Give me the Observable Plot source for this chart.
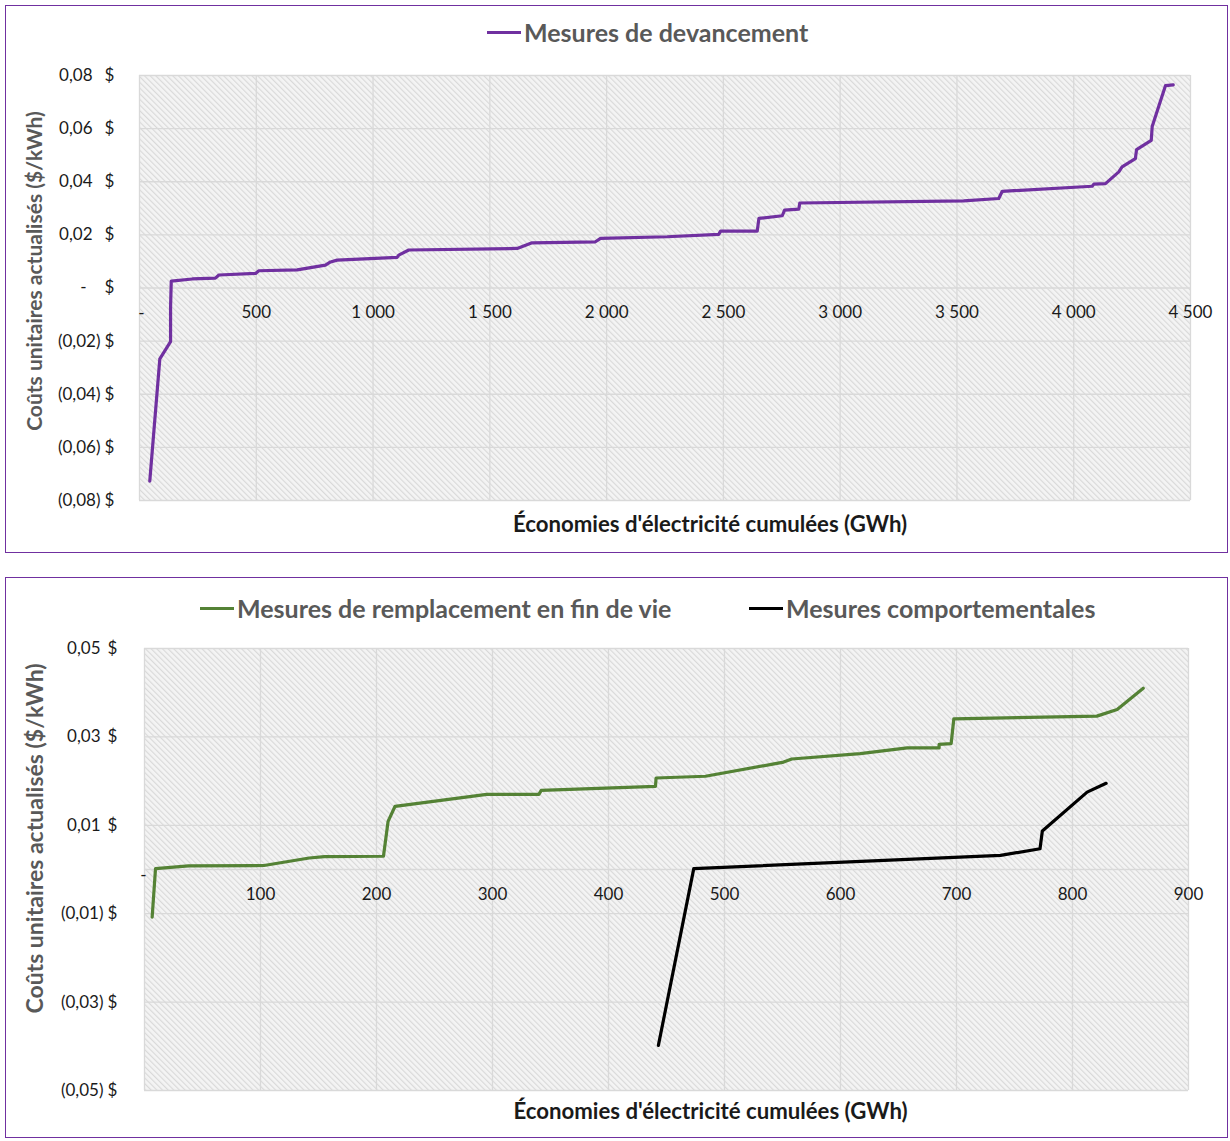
<!DOCTYPE html>
<html>
<head>
<meta charset="utf-8">
<script src="https://cdn.jsdelivr.net/npm/d3@7"></script>
<script src="https://cdn.jsdelivr.net/npm/@observablehq/plot@0.6"></script>
<style>
  body { margin: 0; background: #fff; font-family: Lato, "Open Sans", sans-serif; }
  #page { position: relative; width: 1230px; height: 1141px; overflow: hidden; }
  .panel { position: absolute; box-sizing: border-box; border: 1.5px solid #7030a0; }
  .plotbox { position: absolute; left: 0; }
  .leg { position: absolute; display: flex; align-items: center; height: 30px;
         font-family: Lato, sans-serif; font-weight: 700; font-size: 25px; color: #595959; white-space: nowrap; }
  .leg .sw { display: inline-block; width: 34px; height: 3px; margin-right: 3px; }
</style>
</head>
<body>
<svg width="0" height="0" style="position:absolute">
  <defs>
    <pattern id="hatch" patternUnits="userSpaceOnUse" width="4" height="4" patternTransform="rotate(-45)">
      <rect width="4" height="4" fill="#f4f4f4"></rect>
      <line x1="0.6" y1="0" x2="0.6" y2="4" stroke="#d8d8d8" stroke-width="1.1"></line>
    </pattern>
  </defs>
</svg>
<div id="page">
  <div class="panel" style="left:5px;top:5px;width:1223px;height:548px;"></div>
  <div class="panel" style="left:5px;top:577px;width:1223px;height:561px;"></div>
  <div id="top" class="plotbox" style="top:0px;"></div>
  <div id="bot" class="plotbox" style="top:572px;"></div>
  <div class="leg" style="left:487px;top:17px;"><span class="sw" style="background:#7030a0"></span>Mesures de devancement</div>
  <div class="leg" style="left:200px;top:593px;"><span class="sw" style="background:#548235"></span>Mesures de remplacement en fin de vie</div>
  <div class="leg" style="left:749px;top:593px;"><span class="sw" style="background:#000000"></span>Mesures comportementales</div>
</div>
<script>
// ---------- Data ----------
// Mesures de devancement : cumulative savings (GWh) and unit cost ($/kWh)
const devX = [44, 87, 133, 133, 136, 226, 325, 340, 497, 511, 675, 796, 818, 846, 1103, 1110, 1153, 1617, 1681, 1952, 1974, 2259, 2480, 2488, 2645, 2652, 2752, 2762, 2823, 2827, 3529, 3679, 3694, 4079, 4086, 4136, 4193, 4207, 4264, 4269, 4332, 4336, 4393, 4426];
const devY = [-0.0727, -0.0267, -0.0202, -0.0070, 0.0026, 0.0034, 0.0037, 0.0049, 0.0055, 0.0065, 0.0068, 0.0086, 0.0098, 0.0105, 0.0115, 0.0124, 0.0143, 0.0149, 0.0170, 0.0174, 0.0187, 0.0193, 0.0202, 0.0214, 0.0214, 0.0262, 0.0272, 0.0293, 0.0297, 0.0320, 0.0328, 0.0337, 0.0364, 0.0383, 0.0391, 0.0393, 0.0437, 0.0456, 0.0487, 0.0521, 0.0556, 0.0608, 0.0762, 0.0765];

// Mesures de remplacement en fin de vie
const eolX = [6.6, 9.5, 38, 103, 142, 155, 206, 210, 216, 295, 340, 342, 440.5, 441, 483.6, 551, 558, 617, 657.5, 685, 685, 695.4, 697.7, 821, 838.5, 861];
const eolY = [-0.0108, 0.0002, 0.0008, 0.0009, 0.0026, 0.0029, 0.0030, 0.0109, 0.0143, 0.0170, 0.0170, 0.0179, 0.0188, 0.0207, 0.0211, 0.0243, 0.0250, 0.0262, 0.0275, 0.0275, 0.0283, 0.0285, 0.0341, 0.0347, 0.0362, 0.0410];

// Mesures comportementales
const behX = [443, 473.5, 738, 772, 774, 812.6, 829];
const behY = [-0.0398, 0.0002, 0.0032, 0.0047, 0.0087, 0.0175, 0.0195];

// Ticks and labels
const topXTicks = [0, 500, 1000, 1500, 2000, 2500, 3000, 3500, 4000, 4500];
const topXLabels = ["-", "500", "1 000", "1 500", "2 000", "2 500", "3 000", "3 500", "4 000", "4 500"];
const topYTicks = [0.08, 0.06, 0.04, 0.02, 0, -0.02, -0.04, -0.06, -0.08];
const topYLabels = ["0,08", "0,06", "0,04", "0,02", "-", "(0,02)", "(0,04)", "(0,06)", "(0,08)"];

const botXTicks = [0, 100, 200, 300, 400, 500, 600, 700, 800, 900];
const botXLabels = ["-", "100", "200", "300", "400", "500", "600", "700", "800", "900"];
const botYTicks = [0.05, 0.03, 0.01, -0.01, -0.03, -0.05];
const botYLabels = ["0,05", "0,03", "0,01", "(0,01)", "(0,03)", "(0,05)"];
const botGridY = [0.05, 0.03, 0.01, 0, -0.01, -0.03, -0.05];

const yTitle = "Coûts unitaires actualisés ($/kWh)";
const xTitle = "Économies d'électricité cumulées (GWh)";

const COLORS = {dev: "#7030a0", eol: "#548235", beh: "#000000"};

// ---------- Helpers ----------
const zip = (xs, ys) => xs.map((x, i) => ({x, y: ys[i]}));
const tickFont = {fontFamily: "Lato, sans-serif", fontSize: 17, fill: "#1a1a1a"};
const gridStyle = {stroke: "#d9d9d9", strokeOpacity: 1, strokeWidth: 1.3};

function yLabelMarks(ticks, labels, o) {
  const rows = ticks.map((t, i) => ({t, label: labels[i]}));
  const common = {y: "t", text: "label", frameAnchor: "left", textAnchor: "end", ...tickFont};
  return [
    Plot.text(rows.filter(d => d.t > 0), {...common, dx: o.pos}),
    Plot.text(rows.filter(d => d.t < 0), {...common, dx: o.neg}),
    Plot.text(rows.filter(d => d.t === 0), {...common, dx: o.zero}),
    Plot.text(rows, {y: "t", text: () => "$", frameAnchor: "left", textAnchor: "middle", dx: o.dollar, ...tickFont})
  ];
}

function xLabelMarks(ticks, labels, o) {
  const rows = ticks.map((t, i) => ({t, label: labels[i], y0: 0}));
  return [
    Plot.text(rows.filter(d => d.t !== 0), {x: "t", y: "y0", text: "label", dy: o.dy, textAnchor: "middle", ...tickFont}),
    Plot.text(rows.filter(d => d.t === 0), {x: "t", y: "y0", text: "label", dy: o.zeroDy, dx: o.zeroDx, textAnchor: "middle", ...tickFont})
  ];
}

// ---------- Top chart ----------
const topChart = Plot.plot({
  width: 1230,
  height: 560,
  marginLeft: 139,
  marginRight: 40,
  marginTop: 75,
  marginBottom: 60,
  x: {domain: [0, 4500], axis: null},
  y: {domain: [-0.08, 0.08], axis: null},
  style: {background: "transparent", overflow: "visible"},
  marks: [
    Plot.frame({fill: "url(#hatch)", stroke: "none"}),
    Plot.gridX(topXTicks, gridStyle),
    Plot.gridY(topYTicks, gridStyle),
    ...yLabelMarks(topYTicks, topYLabels, {pos: -47, neg: -39, zero: -53, dollar: -30}),
    ...xLabelMarks(topXTicks, topXLabels, {dy: 25, zeroDy: 26, zeroDx: 2}),
    Plot.line(zip(devX, devY), {x: "x", y: "y", stroke: COLORS.dev, strokeWidth: 3.2, strokeLinejoin: "round"}),
    Plot.text([yTitle], {text: d => d, frameAnchor: "left", textAnchor: "middle", dx: -104, dy: -17, rotate: -90,
      fontFamily: "Lato, sans-serif", fontWeight: 700, fontSize: 21, fill: "#595959"}),
    Plot.text([xTitle], {text: d => d, frameAnchor: "bottom", textAnchor: "middle", dx: 45, dy: 31,
      fontFamily: "Lato, sans-serif", fontWeight: 700, fontSize: 22.2, fill: "#1a1a1a"})
  ]
});
document.getElementById("top").appendChild(topChart);

// ---------- Bottom chart ----------
const botChart = Plot.plot({
  width: 1230,
  height: 569,
  marginLeft: 144,
  marginRight: 42,
  marginTop: 76,
  marginBottom: 51,
  x: {domain: [0, 900], axis: null},
  y: {domain: [-0.05, 0.05], axis: null},
  style: {background: "transparent", overflow: "visible"},
  marks: [
    Plot.frame({fill: "url(#hatch)", stroke: "none"}),
    Plot.gridX(botXTicks, gridStyle),
    Plot.gridY(botGridY, gridStyle),
    ...yLabelMarks(botYTicks, botYLabels, {pos: -44, neg: -41, zero: -50, dollar: -32}),
    ...xLabelMarks(botXTicks, botXLabels, {dy: 25, zeroDy: 6, zeroDx: -1}),
    Plot.line(zip(eolX, eolY), {x: "x", y: "y", stroke: COLORS.eol, strokeWidth: 3.2, strokeLinejoin: "round"}),
    Plot.line(zip(behX, behY), {x: "x", y: "y", stroke: COLORS.beh, strokeWidth: 3.2, strokeLinejoin: "round"}),
    Plot.text([yTitle], {text: d => d, frameAnchor: "left", textAnchor: "middle", dx: -109, dy: -31, rotate: -90,
      fontFamily: "Lato, sans-serif", fontWeight: 700, fontSize: 23, fill: "#595959"}),
    Plot.text([xTitle], {text: d => d, frameAnchor: "bottom", textAnchor: "middle", dx: 44, dy: 28,
      fontFamily: "Lato, sans-serif", fontWeight: 700, fontSize: 22.2, fill: "#1a1a1a"})
  ]
});
document.getElementById("bot").appendChild(botChart);
</script>
</body>
</html>
